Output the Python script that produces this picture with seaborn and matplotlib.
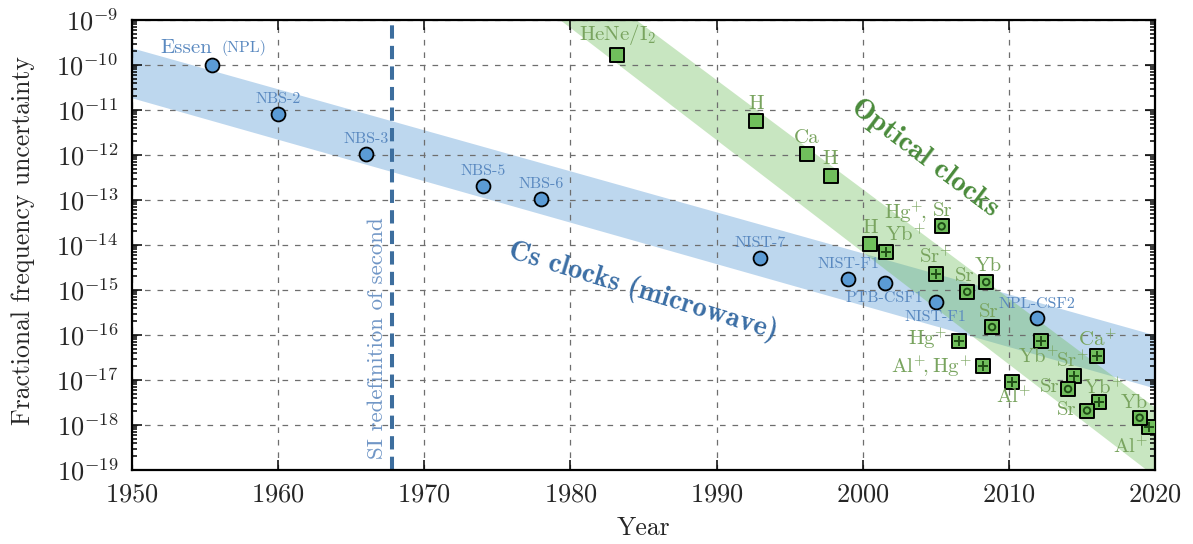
import numpy as np
import pandas as pd
import matplotlib
matplotlib.use("Agg")
import matplotlib.pyplot as plt
import seaborn as sns
from matplotlib.ticker import FixedLocator, FuncFormatter, LogLocator, NullFormatter

# ---------------- data ----------------
# Caesium (microwave) clocks
cs_labels = ["NBS-2", "NBS-3", "NBS-5", "NBS-6", "NIST-7",
             "NIST-F1", "PTB-CSF1", "NIST-F1", "NPL-CSF2"]
cs_years = [1955.5, 1960.0, 1966.0, 1974.0, 1978.0, 1993.0,
            1999.0, 2001.5, 2005.0, 2011.9]
cs_unc = [1.0e-10, 8.2e-12, 1.05e-12, 2.0e-13, 1.05e-13, 5.1e-15,
          1.75e-15, 1.43e-15, 5.4e-16, 2.4e-16]

# Optical clocks: early references (plain squares)
ref_labels = [r"$\mathrm{HeNe/I}_2$", "H", "Ca", "H", "H"]
ref_years = [1983.2, 1992.7, 1996.2, 1997.8, 2000.5]
ref_unc = [1.65e-10, 5.8e-12, 1.05e-12, 3.5e-13, 1.05e-14]

# Optical clocks: trapped ions
ion_labels = [r"$\mathrm{Yb}^{+}$", r"$\mathrm{Sr}^{+}$", r"$\mathrm{Hg}^{+}$",
              r"$\mathrm{Al}^{+}\!,\mathrm{Hg}^{+}$", r"$\mathrm{Al}^{+}$",
              r"$\mathrm{Yb}^{+}$", r"$\mathrm{Ca}^{+}$", r"$\mathrm{Sr}^{+}$",
              r"$\mathrm{Yb}^{+}$", r"$\mathrm{Al}^{+}$"]
ion_years = [2001.6, 2005.0, 2006.6, 2008.2, 2010.2,
             2012.2, 2016.05, 2014.45, 2016.15, 2019.6]
ion_unc = [6.9e-15, 2.3e-15, 7.4e-17, 2.0e-17, 9.1e-18,
           7.4e-17, 3.4e-17, 1.23e-17, 3.2e-18, 9.1e-19]

# Optical clocks: neutral-atom lattices
lat_labels = ["Sr", "Sr", "Yb", "Sr", "Sr", "Sr", "Yb"]
lat_years = [2005.4, 2007.15, 2008.45, 2008.85, 2014.05, 2015.35, 2018.95]
lat_unc = [2.6e-14, 9.1e-16, 1.5e-15, 1.5e-16, 6.3e-18, 2.1e-18, 1.45e-18]

# Trend bands (edges at the band ends)
cs_band_years = [1950.0, 2020.0]
cs_band_upper = [2.4e-10, 1.0e-16]
cs_band_lower = [1.86e-11, 6.6e-18]
opt_upper_years = [1984.5, 2020.0]
opt_upper_vals = [1.0e-9, 2.45e-18]
opt_lower_years = [1979.3, 2020.0]
opt_lower_vals = [1.0e-9, 7.2e-20]

si_year = 1967.8
x_ticks = [1950, 1960, 1970, 1980, 1990, 2000, 2010, 2020]
y_exponents = list(range(-19, -8))

# ---------------- style ----------------
sns.set_style("ticks")
plt.rcParams["font.family"] = ["cmr10", "DejaVu Serif"]
plt.rcParams["mathtext.fontset"] = "cm"
plt.rcParams["axes.unicode_minus"] = False
plt.rcParams["axes.formatter.use_mathtext"] = True

BLUE_FILL = "#5b9bd5"
GREEN_FILL = "#70bf5c"
BLUE_TXT = "#5a89c0"
GREEN_TXT = "#79a45f"
INNER = "#1f4d16"

fig = plt.figure(figsize=(11.93, 5.44), dpi=100)
ax = fig.add_axes([132 / 1193, 1 - 470 / 544, 1023 / 1193, 450 / 544])
ax.set_yscale("log")
ax.set_xlim(1950, 2020)
ax.set_ylim(1e-19, 1e-9)

# bands
ax.fill_between(cs_band_years, cs_band_lower, cs_band_upper,
                color=BLUE_FILL, alpha=0.40, lw=0, zorder=0.2)
opt_poly_x = [opt_lower_years[0], opt_upper_years[0], opt_upper_years[1], opt_lower_years[1]]
opt_poly_y = [opt_lower_vals[0], opt_upper_vals[0], opt_upper_vals[1], opt_lower_vals[1]]
ax.fill(opt_poly_x, opt_poly_y, color=GREEN_FILL, alpha=0.38, lw=0, zorder=0.3)

# grid
ax.set_axisbelow(True)
ax.grid(True, which="major", color="#6e6e6e", lw=0.9, ls=(0, (4.5, 5.5)))
ax.grid(False, which="minor")

# SI redefinition line
ax.axvline(si_year, color="#3d6e9e", lw=2.9, ls=(0, (3.3, 1.8)), zorder=2)
ax.text(si_year - 1.05, 10 ** -16.07, "SI redefinition of second", rotation=90,
        ha="center", va="center", color="#7096c6", fontsize=16.5)

# markers
cs_df = pd.DataFrame({"year": cs_years, "unc": cs_unc})
ref_df = pd.DataFrame({"year": ref_years, "unc": ref_unc})
ion_df = pd.DataFrame({"year": ion_years, "unc": ion_unc})
lat_df = pd.DataFrame({"year": lat_years, "unc": lat_unc})

sns.scatterplot(data=cs_df, x="year", y="unc", ax=ax, marker="o", s=100,
                color=BLUE_FILL, edgecolor="black", linewidth=1.3, zorder=5)
for df in (ref_df, ion_df, lat_df):
    sns.scatterplot(data=df, x="year", y="unc", ax=ax, marker="s", s=90,
                    color=GREEN_FILL, edgecolor="black", linewidth=1.4, zorder=5)
ax.scatter(ion_df["year"], ion_df["unc"], marker="+", s=45, color=INNER,
           linewidths=1.4, zorder=6)
ax.scatter(lat_df["year"], lat_df["unc"], marker="o", s=22, facecolors="none",
           edgecolors=INNER, linewidths=1.4, zorder=6)

# ---------------- annotations ----------------
def label(x, y, txt, dx, dy, color, size, ha="center"):
    ax.annotate(txt, (x, y), xytext=(dx, dy), textcoords="offset pixels",
                ha=ha, va="center", color=color, fontsize=size, zorder=7)

# Essen (NPL)
label(cs_years[0], cs_unc[0], "Essen", 0, 17, BLUE_TXT, 15, ha="right")
label(cs_years[0], cs_unc[0], "(NPL)", 9, 17, BLUE_TXT, 11.5, ha="left")

cs_off = [(0, 15), (0, 15), (0, 15), (0, 15), (0, 15),
          (0, 15), (0, -15), (0, -15), (0, 14)]
for (x, y, t, (dx, dy)) in zip(cs_years[1:], cs_unc[1:], cs_labels, cs_off):
    label(x, y, t, dx, dy, BLUE_TXT, 11.5)

ref_off = [(0, 21), (0, 17), (0, 16), (0, 16), (0, 16)]
for (x, y, t, (dx, dy)) in zip(ref_years, ref_unc, ref_labels, ref_off):
    label(x, y, t, dx, dy, GREEN_TXT, 15)

# Hg+, stacked above the first Yb+ point
label(ion_years[0], ion_unc[0], r"$\mathrm{Hg}^{+}\!,$", -2, 40, GREEN_TXT, 15, ha="left")
ion_off = [(-1, 18, "left"), (0, 17, "center"), (-12, 2, "right"),
           (-11, 0, "right"), (2, -15, "center"), (-3, -16, "center"),
           (0, 17, "center"), (-1, 15, "center"), (5, 15, "center"),
           (-19, -20, "center")]
for (x, y, t, (dx, dy, ha)) in zip(ion_years, ion_unc, ion_labels, ion_off):
    label(x, y, t, dx, dy, GREEN_TXT, 15, ha=ha)

lat_off = [(1, 15, "center"), (-3, 16, "center"), (2, 16, "center"),
           (-3, 15, "center"), (-9, 2, "right"), (-11, 0, "right"),
           (-5, 15, "center")]
for (x, y, t, (dx, dy, ha)) in zip(lat_years, lat_unc, lat_labels, lat_off):
    label(x, y, t, dx, dy, GREEN_TXT, 15, ha=ha)

# band titles
ax.text(1984.95, 10 ** -15.04, "Cs clocks (microwave)", rotation=-17,
        rotation_mode="anchor", ha="center", va="center",
        color="#3b6ea5", fontsize=20.5, family="cmb10", zorder=7)
ax.text(2004.25, 10 ** -12.07, "Optical clocks", rotation=-37,
        rotation_mode="anchor", ha="center", va="center",
        color="#4a8b3b", fontsize=21, family="cmb10", zorder=7)

# ---------------- axes ----------------
ax.xaxis.set_major_locator(FixedLocator(x_ticks))
ax.yaxis.set_major_locator(FixedLocator([10.0 ** e for e in y_exponents]))
ax.yaxis.set_major_formatter(FuncFormatter(lambda v, p: r"$10^{%d}$" % round(np.log10(v))))
ax.yaxis.set_minor_locator(LogLocator(base=10, subs=np.arange(2, 10), numticks=50))
ax.yaxis.set_minor_formatter(NullFormatter())

ax.tick_params(which="both", direction="in", top=True, right=True,
               width=1.1, color="black")
ax.tick_params(which="major", length=7, labelsize=19)
ax.tick_params(which="minor", length=3.5)
ax.tick_params(axis="x", pad=9)
ax.tick_params(axis="y", pad=10)

for s in ax.spines.values():
    s.set_linewidth(1.6)
    s.set_color("black")

ax.set_xlabel("Year", fontsize=18.5)
ax.set_ylabel("Fractional frequency uncertainty", fontsize=18.5)
ax.xaxis.set_label_coords(0.5, -0.102)
ax.yaxis.set_label_coords(-0.095, 0.509)

fig.savefig("out.png", dpi=100)
